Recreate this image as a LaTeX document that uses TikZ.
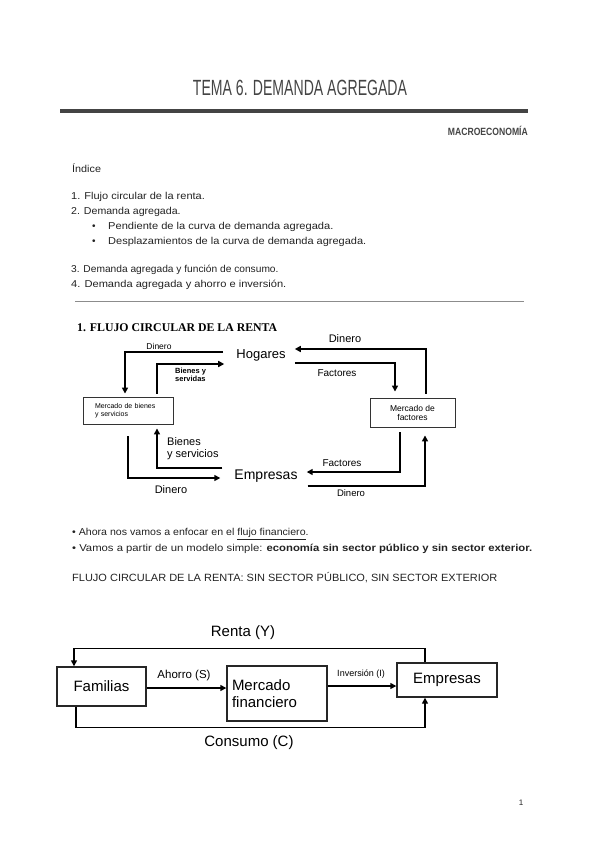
\documentclass[tikz,border=0pt]{standalone}
\usepackage{fontspec}
\setmainfont{Liberation Sans}
\newfontfamily\headserif{Liberation Serif}
\usetikzlibrary{arrows.meta,calc}
\definecolor{titlegray}{HTML}{444444}
\definecolor{textgray}{HTML}{222222}
\newcommand{\wide}[2]{{\addfontfeature{FakeStretch=#1}#2}}
\begin{document}
\begin{tikzpicture}[x=1pt,y=-1pt,
  body/.style={anchor=west,inner sep=0pt,text=textgray,font=\fontsize{10}{12}\selectfont},
  hand/.style={inner sep=0pt,text=black},
  lbl/.style={inner sep=0pt,text=black},
  boxa/.style={draw=black!80,line width=0.9pt},
  boxb/.style={draw=black!85,line width=1.4pt},
  conn/.style={line width=1.6pt,-{Triangle[length=6pt,width=6pt]}},
  connb/.style={line width=1.4pt,-{Triangle[length=6pt,width=6pt]}}]
\useasboundingbox (0,0) rectangle (600,848);

% header
\node[inner sep=0pt,text=titlegray] (title) at (300,88)
  {\fontsize{22}{24}\selectfont\wide{0.64}{TEMA 6. DEMANDA AGREGADA}};
\draw[titlegray,line width=4pt] (60,111) -- (528,111);
\node[inner sep=0pt,anchor=east,text=titlegray] (subj) at (528,131)
  {\fontsize{10.5}{12}\selectfont\bfseries\wide{0.82}{MACROECONOMÍA}};

% index
\node[body] (idx) at (72,168) {\wide{1.08}{Índice}};
\node[body] (i1) at (71,197) {\wide{1.1}{1. Flujo circular de la renta.}};
\node[body] (i2) at (71,212) {\wide{1.06}{2. Demanda agregada.}};
\node[body] (b1) at (92,227) {\textbullet};
\node[body] (i2a) at (108,227) {\wide{1.11}{Pendiente de la curva de demanda agregada.}};
\node[body] (b2) at (92,242) {\textbullet};
\node[body] (i2b) at (108,242) {\wide{1.10}{Desplazamientos de la curva de demanda agregada.}};
\node[body] (i3) at (71,270) {\wide{1.02}{3. Demanda agregada y función de consumo.}};
\node[body] (i4) at (71,285) {\wide{1.11}{4. Demanda agregada y ahorro e inversión.}};
\draw[black!45,line width=1pt] (75,301) -- (524,301);

% section 1
\node[inner sep=0pt,anchor=west] (sec) at (77,328)
  {\headserif\bfseries\fontsize{11.8}{13}\selectfont 1. FLUJO CIRCULAR DE LA RENTA};

\node[hand,font=\fontsize{13}{15}\selectfont] (hog) at (261,355) {Hogares};
\node[hand,font=\fontsize{14}{16}\selectfont] (emp) at (266,476) {Empresas};
\node[boxa,minimum width=90pt,minimum height=27pt,inner xsep=12pt,inner ysep=2pt,
  text width=66pt,align=left,
  font=\fontsize{7}{7.5}\selectfont] (mbs) at (128,410.5) {Mercado de bienes\\y servicios};
\node[boxa,minimum width=85pt,minimum height=29pt,align=center,inner sep=2pt,
  font=\fontsize{8.5}{9}\selectfont] (mfa) at (412.5,412.5) {Mercado de\\factores};

\draw[conn] ([shift={(-13,-3)}]hog.west) -| ([shift={(-3,-3)}]mbs.north);
\node[lbl,font=\fontsize{8.5}{9}\selectfont] (l1) at (159,346) {Dinero};
\draw[conn] ([shift={(29,-3)}]mbs.north) |- ([shift={(-12,9)}]hog.west);
\node[lbl,anchor=west,font=\fontsize{7.5}{8.5}\selectfont\bfseries,align=left] (l2) at (175,375) {Bienes y\\servidas};
\draw[conn] ([shift={(13.5,-4)}]mfa.north) |- ([shift={(9,-6)}]hog.east);
\node[lbl,font=\fontsize{11}{12}\selectfont] (l3) at (345,339) {Dinero};
\draw[conn] ([shift={(9,8)}]hog.east) -| ([shift={(-17.5,-6)}]mfa.north);
\node[lbl,font=\fontsize{10}{11}\selectfont] (l4) at (337,373) {Factores};
\draw[conn] ([shift={(-12.5,5)}]mfa.south) |- ([shift={(9,-4)}]emp.east);
\node[lbl,font=\fontsize{10}{11}\selectfont] (l5) at (342,463) {Factores};
\draw[conn] ([shift={(10,10)}]emp.east) -| ([shift={(12.5,8)}]mfa.south);
\node[lbl,font=\fontsize{9.5}{10}\selectfont] (l6) at (351,493) {Dinero};
\draw[conn] ([shift={(0,12)}]mbs.south) |- ([shift={(-14,2)}]emp.west);
\node[lbl,font=\fontsize{11}{12}\selectfont] (l7) at (171,490) {Dinero};
\draw[conn] ([shift={(-12,-8)}]emp.west) -| ([shift={(29,4)}]mbs.south);
\node[lbl,anchor=west,font=\fontsize{11}{12}\selectfont,align=left] (l8) at (167,449) {Bienes\\y servicios};

% bullets
\node[body] (t1) at (72,534) {\wide{1.06}{\textbullet{} Ahora nos vamos a enfocar en el \underline{flujo financiero}.}};
\node[body] (t2) at (72,549) {\wide{1.13}{\textbullet{} Vamos a partir de un modelo simple: \textbf{economía sin sector público y sin sector exterior.}}};
\node[body,font=\fontsize{10.5}{12}\selectfont] (t3) at (72,578) {\wide{1.047}{FLUJO CIRCULAR DE LA RENTA: SIN SECTOR PÚBLICO, SIN SECTOR EXTERIOR}};

% diagram 2
\node[boxb,minimum width=89pt,minimum height=39pt,inner sep=2pt,font=\fontsize{15}{17}\selectfont] (fam) at (101.5,686.5) {Familias};
\node[boxb,minimum width=100pt,minimum height=55pt,inner xsep=5pt,inner ysep=2pt,text width=90pt,align=left,font=\fontsize{15}{17}\selectfont] (mf) at (277,693.5) {Mercado\\financiero};
\node[boxb,minimum width=100pt,minimum height=34pt,inner sep=2pt,font=\fontsize{15}{17}\selectfont] (emp2) at (447,680) {Empresas};

\draw[connb] ([xshift=-22pt]emp2.north) -- ++(0,-14) -| ([xshift=-27.5pt]fam.north);
\node[lbl,font=\fontsize{15}{17}\selectfont] (renta) at (243,633) {Renta (Y)};
\draw[connb] ([shift={(0,1.5)}]fam.east) -- ([shift={(0,-5.5)}]mf.west);
\node[lbl,font=\fontsize{11.5}{13}\selectfont] (ahorro) at (184,676) {Ahorro (S)};
\draw[connb] ([shift={(0,-7.5)}]mf.east) -- ([shift={(0,6)}]emp2.west);
\node[lbl,font=\fontsize{9}{10}\selectfont] (inv) at (361,674) {Inversión (I)};
\draw[connb] ([xshift=-25.5pt]fam.south) -- ++(0,21) -| ([xshift=-22pt]emp2.south);
\node[lbl,font=\fontsize{15}{17}\selectfont] (cons) at (249,743) {Consumo (C)};

\node[inner sep=0pt,text=textgray,font=\fontsize{8}{10}\selectfont] (pg) at (521,803) {1};
\end{tikzpicture}
\end{document}
